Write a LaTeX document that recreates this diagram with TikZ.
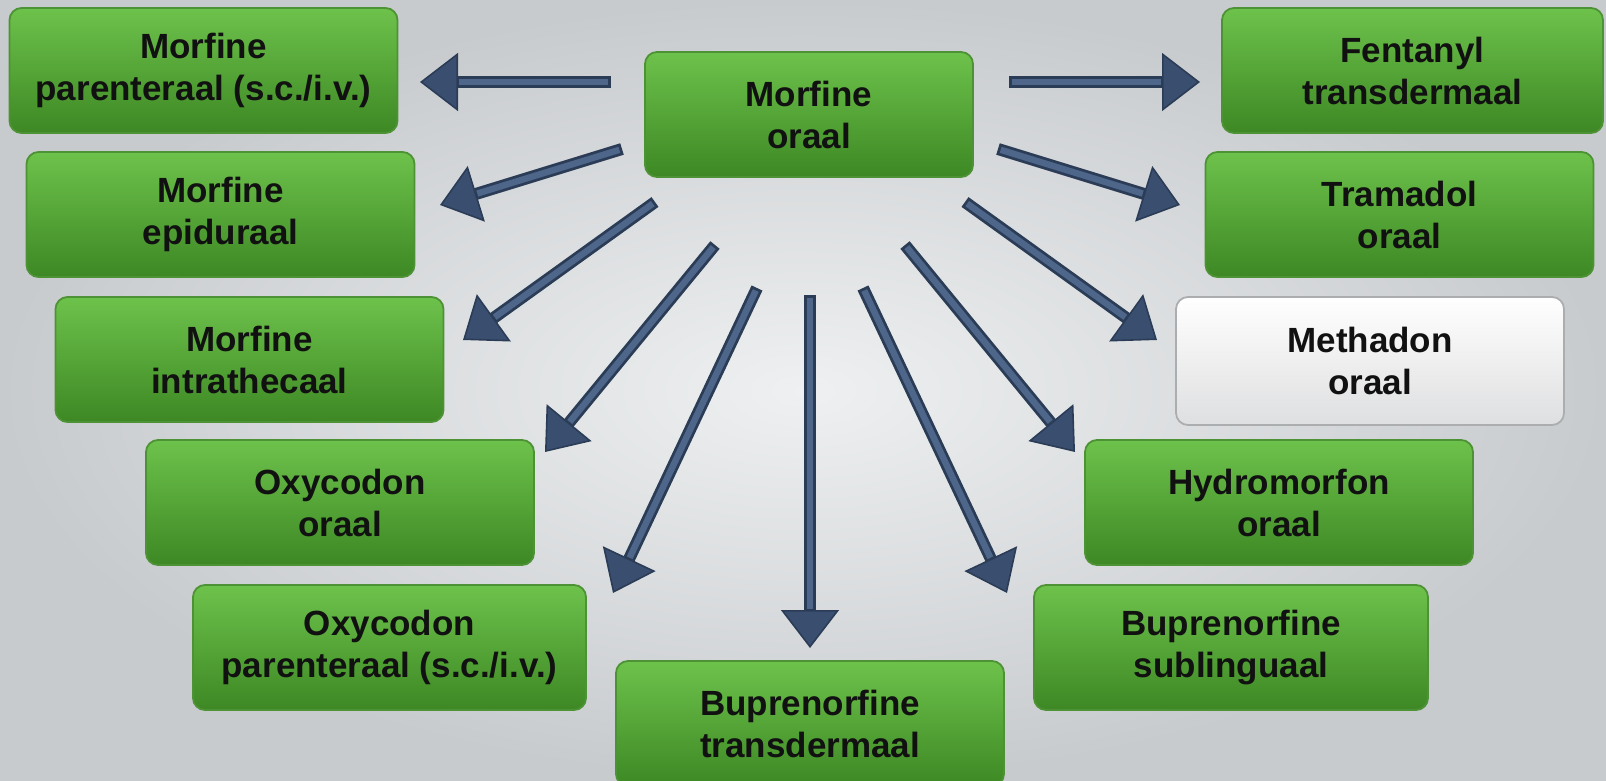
\documentclass[tikz,border=0pt]{standalone}
\usepackage{fontspec}
\setmainfont{Liberation Sans}
\usetikzlibrary{arrows.meta}
\definecolor{bgin}{HTML}{EEF0F1}
\definecolor{bgout}{HTML}{C8CBCE}
\definecolor{gtop}{HTML}{6DC24B}
\definecolor{gbot}{HTML}{3D8824}
\definecolor{gedge}{HTML}{4E9236}
\definecolor{wtop}{HTML}{FFFFFF}
\definecolor{wbot}{HTML}{DEDFE0}
\definecolor{wedge}{HTML}{ABADAF}
\definecolor{aedge}{HTML}{2B3C56}
\definecolor{aface}{HTML}{4E6689}
\definecolor{ahead}{HTML}{3A4E70}
\definecolor{txt}{HTML}{111111}
\begin{document}
\begin{tikzpicture}[x=0.5pt,y=-0.5pt,
  box/.style={rectangle, rounded corners=6pt, minimum width=194pt, minimum height=62.5pt,
    inner sep=0pt, align=center, font=\fontsize{17.5}{21}\selectfont\bfseries, text=txt, line width=0.9pt},
  gbox/.style={box, draw=gedge, top color=gtop, bottom color=gbot},
  wbox/.style={box, draw=wedge, top color=wtop, bottom color=wbot},
  arr/.style={line width=6pt, draw=aedge, -{Triangle[length=19pt,width=29pt,line width=0.8pt,fill=ahead]}},
  arrface/.style={line width=3.2pt, draw=aface, shorten >=19.5pt, shorten <=1.4pt}]
\useasboundingbox (0,0) rectangle (1606,781);
\shade[inner color=bgin, outer color=bgout] (0,0) rectangle (1606,781);

% nodes
\node[gbox, minimum width=164pt] (mo) at (809,114.5) {Morfine\\oraal};
\node[gbox] (n1) at (203.5,70.5) {Morfine\\parenteraal (s.c./i.v.)};
\node[gbox, minimum width=190.5pt] (n2) at (1412.5,70.5) {Fentanyl\\transdermaal};
\node[gbox] (n3) at (220.5,214.5) {Morfine\\epiduraal};
\node[gbox] (n4) at (1399.5,214.5) {Tramadol\\oraal};
\node[gbox] (n5) at (249.5,359.5) {Morfine\\intrathecaal};
\node[wbox, minimum height=64pt] (n6) at (1370,361) {Methadon\\oraal};
\node[gbox] (n7) at (340,502.5) {Oxycodon\\oraal};
\node[gbox] (n8) at (1279,502.5) {Hydromorfon\\oraal};
\node[gbox, minimum width=196.5pt] (n9) at (389.5,647.5) {Oxycodon\\parenteraal (s.c./i.v.)};
\node[gbox, minimum width=197pt] (n10) at (1231,647.5) {Buprenorfine\\sublinguaal};
\node[gbox] (n11) at (810,723.5) {Buprenorfine\\transdermaal};

% arrow end points
\coordinate (s1) at (611,82);   \coordinate (e1) at (420,82);
\coordinate (s2) at (1009,82);  \coordinate (e2) at (1200,82);
\coordinate (s3) at (622,149);  \coordinate (e3) at (440,205);
\coordinate (s4) at (998,149);  \coordinate (e4) at (1180,205);
\coordinate (s5) at (655,202);  \coordinate (e5) at (463,340);
\coordinate (s6) at (965,202);  \coordinate (e6) at (1157,340);
\coordinate (s7) at (715,245);  \coordinate (e7) at (545,452);
\coordinate (s8) at (905,245);  \coordinate (e8) at (1075,452);
\coordinate (s9) at (757,288);  \coordinate (e9) at (613,593);
\coordinate (s10) at (863,288); \coordinate (e10) at (1007,593);
\coordinate (s11) at (810,295); \coordinate (e11) at (810,648);

\foreach \i in {1,...,11}{
  \draw[arr] (s\i) -- (e\i);
  \draw[arrface] (s\i) -- (e\i);
}
\end{tikzpicture}
\end{document}
